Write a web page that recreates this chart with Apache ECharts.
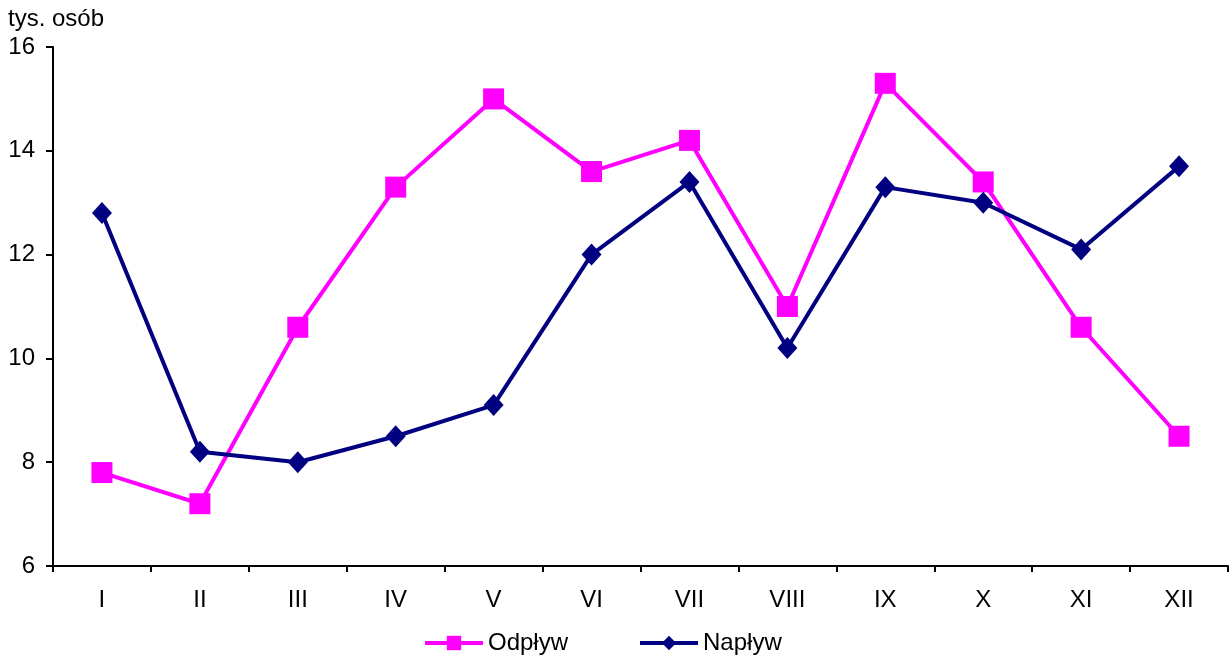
<!DOCTYPE html>
<html><head><meta charset="utf-8">
<script src="https://cdn.jsdelivr.net/npm/echarts@6/dist/echarts.min.js"></script>
<style>html,body{margin:0;padding:0;background:#fff}#c{width:1230px;height:662px}</style>
</head><body><div id="c"></div>
<script>
const categories = ['I','II','III','IV','V','VI','VII','VIII','IX','X','XI','XII'];
const odplyw = [7.8, 7.2, 10.6, 13.3, 15.0, 13.6, 14.2, 11.0, 15.3, 13.4, 10.6, 8.5];
const naplyw = [12.8, 8.2, 8.0, 8.5, 9.1, 12.0, 13.4, 10.2, 13.3, 13.0, 12.1, 13.7];
const yTicks = [6, 8, 10, 12, 14, 16];
const font = 'Liberation Sans, Arial, sans-serif';
const chart = echarts.init(document.getElementById('c'), null, {renderer: 'canvas'});
chart.setOption({
  animation: false,
  backgroundColor: '#fff',
  grid: {left: 53, right: 2, top: 47, bottom: 96, containLabel: false},
  title: {text: 'tys. osób', left: 8, top: 7, padding: 0, textStyle: {fontFamily: font, fontSize: 24, fontWeight: 'normal', color: '#000'}},
  legend: {
    top: 631, left: 423, itemGap: 70, itemWidth: 58, itemHeight: 18, padding: 0,
    textStyle: {fontFamily: font, fontSize: 24, color: '#000'},
    lineStyle: {width: 4},
    data: ['Odpływ', 'Napływ']
  },
  xAxis: {
    type: 'category', data: categories, boundaryGap: true,
    axisLine: {lineStyle: {color: '#000', width: 2}},
    axisTick: {show: true, alignWithLabel: false, length: 6, lineStyle: {color: '#000', width: 2}},
    axisLabel: {fontFamily: font, fontSize: 24, color: '#000', margin: 22},
    splitLine: {show: false}
  },
  yAxis: {
    type: 'value', min: yTicks[0], max: yTicks[yTicks.length-1], interval: 2,
    axisLine: {show: true, lineStyle: {color: '#000', width: 2}},
    axisTick: {show: true, length: 7, lineStyle: {color: '#000', width: 2}},
    axisLabel: {fontFamily: font, fontSize: 24, color: '#000', margin: 18},
    splitLine: {show: false}
  },
  series: [
    {name: 'Odpływ', type: 'line', data: odplyw, symbol: 'rect', symbolSize: 21,
     lineStyle: {color: '#ff00ff', width: 4}, itemStyle: {color: '#ff00ff'}, z: 2},
    {name: 'Napływ', type: 'line', data: naplyw, symbol: 'diamond', symbolSize: [20, 22],
     lineStyle: {color: '#000080', width: 4}, itemStyle: {color: '#000080'}, z: 3}
  ]
});
</script></body></html>
